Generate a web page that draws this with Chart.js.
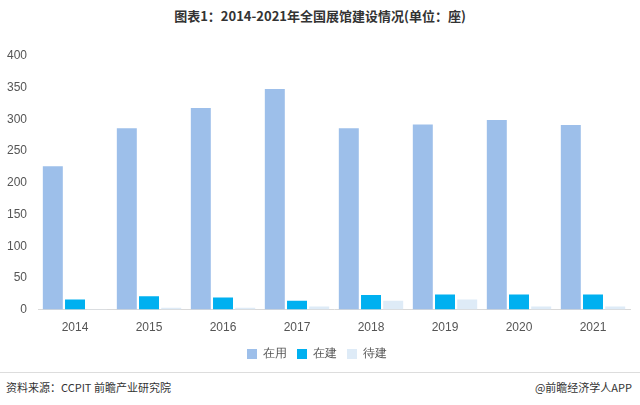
<!DOCTYPE html><html><head><meta charset="utf-8"><script src="https://cdn.jsdelivr.net/npm/chart.js@4"></script>
<style>body{margin:0;width:640px;height:405px;background:#fff;font-family:"Noto Sans CJK SC",sans-serif;position:relative}
#t{position:absolute;top:6px;width:100%;text-align:center;font-weight:bold;font-size:13px;color:#333}
#f1{position:absolute;left:6px;top:379px;font-size:11px;color:#333}
#f2{position:absolute;right:8px;top:379px;font-size:11px;color:#333}
#line{position:absolute;left:0;right:0;top:372px;border-top:1px solid #ddd}
#c{position:absolute;left:0;top:36px}</style></head><body>
<div id="t">图表1：2014-2021年全国展馆建设情况(单位：座)</div>
<div id="c"><canvas id="cv" width="640" height="334"></canvas></div>
<div id="line"></div>
<div id="f1">资料来源：CCPIT 前瞻产业研究院</div><div id="f2">@前瞻经济学人APP</div>
<script>
const categories=["2014","2015","2016","2017","2018","2019","2020","2021"];
const inUse=[226,286,318,348,286,292,299,291];
const building=[16,21,19,14,23,24,24,24];
const pending=[1,3,3,5,14,16,5,5];
const bp={categoryPercentage:0.9,barPercentage:0.9};
new Chart(document.getElementById('cv'),{type:'bar',data:{labels:categories,datasets:[
{label:'在用',data:inUse,backgroundColor:'#9dbfea',...bp},
{label:'在建',data:building,backgroundColor:'#00b0f0',...bp},
{label:'待建',data:pending,backgroundColor:'#deebf7',...bp}]},
options:{responsive:false,animation:false,layout:{padding:{left:4,right:10,top:20}},
plugins:{legend:{position:'bottom',labels:{boxWidth:10,boxHeight:10,font:{size:12},color:'#555',padding:10}}},
scales:{x:{grid:{display:false},border:{color:'#d9d9d9'},ticks:{color:'#555',font:{size:12}}},
y:{min:0,max:400,ticks:{stepSize:50,color:'#555',font:{size:12}},grid:{display:false},border:{display:false}}}}});
</script></body></html>
